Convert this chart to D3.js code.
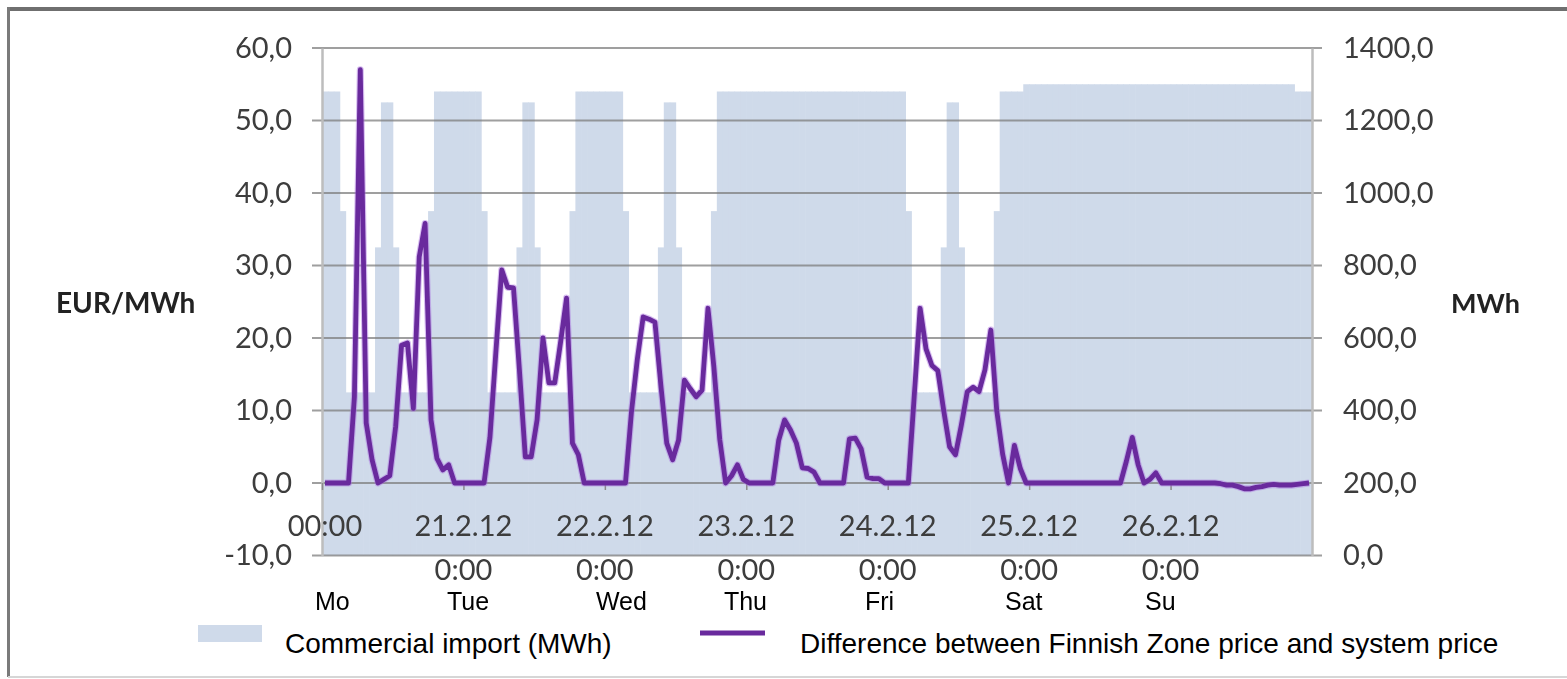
<!DOCTYPE html>
<html>
<head>
<meta charset="utf-8">
<script src="https://cdn.jsdelivr.net/npm/d3@7"></script>
<style>
  html, body { margin: 0; padding: 0; background: #fff; }
  svg { display: block; }
</style>
</head>
<body>
<svg id="chart" width="1567" height="679"></svg>
<script>
// Hour index of the week 20.2.2012 00:00 – 26.2.2012 23:00
const hours = d3.range(168);

// Commercial import into Finland, MWh per hour (Mon..Sun, 24 values per row)
const importMWh = [
  1280,1280,1280,950,450,450,450,450,450,850,1250,1250,850,450,450,450,450,450,950,1280,1280,1280,1280,1280,
  1280,1280,1280,950,450,450,450,450,450,850,1250,1250,850,450,450,450,450,450,950,1280,1280,1280,1280,1280,
  1280,1280,1280,950,450,450,450,450,450,850,1250,1250,850,450,450,450,450,450,950,1280,1280,1280,1280,1280,
  1280,1280,1280,1280,1280,1280,1280,1280,1280,1280,1280,1280,1280,1280,1280,1280,1280,1280,1280,1280,1280,1280,1280,1280,
  1280,1280,1280,950,450,450,450,450,450,850,1250,1250,850,450,450,450,450,450,950,1280,1280,1280,1280,1300,
  1300,1300,1300,1300,1300,1300,1300,1300,1300,1300,1300,1300,1300,1300,1300,1300,1300,1300,1300,1300,1300,1300,1300,1300,
  1300,1300,1300,1300,1300,1300,1300,1300,1300,1300,1300,1300,1300,1300,1300,1300,1300,1300,1300,1300,1300,1280,1280,1280
];

// Finnish area price minus system price, EUR/MWh per hour
const priceDiff = [
  0,0,0,0,0,11.9,57,8.3,3.2,0,0.5,1.0,7.8,19,19.3,10.3,31.2,35.8,8.7,3.4,1.8,2.5,0,0,
  0,0,0,0,6.3,18,29.4,27,26.9,15.6,3.6,3.6,8.7,20,13.8,13.8,19.5,25.5,5.5,3.9,0,0,0,0,
  0,0,0,0,9.7,17,22.9,22.6,22.2,13.5,5.5,3.2,5.9,14.2,13,11.9,12.8,24.1,16,6,0,1,2.5,0.5,
  0,0,0,0,0,5.9,8.7,7.3,5.5,2.1,2.0,1.5,0,0,0,0,0,6.1,6.2,4.7,0.8,0.6,0.6,0,
  0,0,0,0,12,24.1,18.5,16.2,15.5,10,5,3.9,8,12.6,13.2,12.6,15.6,21.1,10,4,0,5.2,2,0,
  0,0,0,0,0,0,0,0,0,0,0,0,0,0,0,0,3,6.3,2.5,0,0.5,1.4,0,0,
  0,0,0,0,0,0,0,0,-0.1,-0.3,-0.3,-0.5,-0.8,-0.8,-0.6,-0.5,-0.3,-0.2,-0.3,-0.3,-0.3,-0.2,-0.1,0
];

const leftTicks = [-10, 0, 10, 20, 30, 40, 50, 60];
const rightTicks = [0, 200, 400, 600, 800, 1000, 1200, 1400];
const dayTickTop = ["00:00", "21.2.12", "22.2.12", "23.2.12", "24.2.12", "25.2.12", "26.2.12"];
const dayTickBottom = ["", "0:00", "0:00", "0:00", "0:00", "0:00", "0:00"];
const weekdays = ["Mo", "Tue", "Wed", "Thu", "Fri", "Sat", "Su"];
const weekdayAt = [-0.05, 0.884, 1.937, 2.842, 3.839, 4.829, 5.819];   // day units
const legendLabels = ["Commercial import (MWh)", "Difference between Finnish Zone price and system price"];

const W = 1567, H = 679;
const plot = { left: 322, right: 1312, top: 48, bottom: 555.5 };
const barColor = "#cfdaea";
const lineColor = "#692b9d";
const tickFont = "Lato, 'Open Sans', sans-serif";
const labelFont = "'Liberation Sans', Arial, sans-serif";
const fmt = v => v.toFixed(1).replace(".", ",");

const svg = d3.select("#chart");
const defs = svg.append("defs");
defs.append("filter").attr("id", "soft")
  .attr("filterUnits", "userSpaceOnUse")
  .attr("x", 0).attr("y", 0).attr("width", W).attr("height", H)
  .append("feGaussianBlur").attr("stdDeviation", 0.55);

svg.append("rect").attr("width", W).attr("height", H).attr("fill", "#fff");

// frame
svg.append("rect").attr("x", 8).attr("y", 7).attr("width", W - 8).attr("height", 4).attr("fill", "#6f6f6f");
svg.append("rect").attr("x", 7).attr("y", 7).attr("width", 3).attr("height", H - 9).attr("fill", "#7a7a7a");
svg.append("line").attr("x1", 8).attr("x2", W).attr("y1", 677).attr("y2", 677)
  .attr("stroke", "#d6d6d6").attr("stroke-width", 2);

const x = d3.scaleBand().domain(hours).range([plot.left, plot.right]).padding(0);
const days = d3.scaleLinear().domain([0, 7]).range([plot.left, plot.right]);
const yL = d3.scaleLinear().domain([-10, 60]).range([plot.bottom, plot.top]);
const yR = d3.scaleLinear().domain([0, 1400]).range([plot.bottom, plot.top]);

const chart = svg.append("g").attr("filter", "url(#soft)");

// import columns
chart.append("g").selectAll("rect").data(importMWh).join("rect")
  .attr("x", (d, i) => x(i))
  .attr("width", x.bandwidth() + 0.6)
  .attr("y", d => yR(d))
  .attr("height", d => yR(0) - yR(d))
  .attr("fill", barColor);

// horizontal gridlines
chart.append("g").selectAll("line").data(leftTicks).join("line")
  .attr("x1", plot.left - 10).attr("x2", plot.right + 10)
  .attr("y1", d => yL(d)).attr("y2", d => yL(d))
  .attr("stroke", "#7d7d7d").attr("stroke-opacity", 0.75).attr("stroke-width", 2);

// left axis
const gL = chart.append("g").attr("transform", `translate(${plot.left},0)`)
  .call(d3.axisLeft(yL).tickValues(leftTicks).tickFormat(fmt).tickSizeInner(10).tickSizeOuter(0).tickPadding(20));
gL.select(".domain").attr("stroke", "#bdbdbd").attr("stroke-width", 2.5);
gL.selectAll(".tick line").attr("stroke", "none");
gL.selectAll("text").attr("font-family", tickFont).attr("font-size", 29).attr("fill", "#3c3c3c");

// right axis
const gR = chart.append("g").attr("transform", `translate(${plot.right},0)`)
  .call(d3.axisRight(yR).tickValues(rightTicks).tickFormat(fmt).tickSizeInner(10).tickSizeOuter(0).tickPadding(21));
gR.select(".domain").attr("stroke", "#bdbdbd").attr("stroke-width", 2.5);
gR.selectAll(".tick line").attr("stroke", "none");
gR.selectAll("text").attr("font-family", tickFont).attr("font-size", 29).attr("fill", "#3c3c3c");

// day ticks on the zero line
const gX = chart.append("g").attr("transform", `translate(0,${yL(0)})`)
  .call(d3.axisBottom(days).tickValues(d3.range(7)).tickSize(7).tickFormat(""));
gX.select(".domain").remove();
gX.selectAll(".tick line").attr("stroke", "#8a8a8a").attr("stroke-width", 1.5);

// day labels, two lines
chart.append("g").selectAll("text").data(dayTickTop).join("text")
  .attr("x", (d, i) => days(i) + (i === 0 ? 3 : 0))
  .attr("y", 536)
  .attr("text-anchor", "middle")
  .attr("font-family", tickFont).attr("font-size", 29).attr("fill", "#3c3c3c")
  .text(d => d);
chart.append("g").selectAll("text").data(dayTickBottom).join("text")
  .attr("x", (d, i) => days(i))
  .attr("y", 580)
  .attr("text-anchor", "middle")
  .attr("font-family", tickFont).attr("font-size", 29).attr("fill", "#3c3c3c")
  .text(d => d);

// price difference line
const line = d3.line()
  .x((d, i) => x(i) + x.bandwidth() / 2)
  .y(d => yL(d));
chart.append("path").datum(priceDiff)
  .attr("d", line).attr("fill", "none")
  .attr("stroke", "#a86fe0").attr("stroke-opacity", 0.45).attr("stroke-width", 7)
  .attr("stroke-linejoin", "round");
chart.append("path").datum(priceDiff)
  .attr("d", line).attr("fill", "none")
  .attr("stroke", lineColor).attr("stroke-width", 4.8)
  .attr("stroke-linejoin", "round");

// axis titles
chart.append("text").attr("x", 56).attr("y", 313)
  .attr("font-family", tickFont).attr("font-weight", 700).attr("font-size", 28).attr("fill", "#222")
  .text("EUR/MWh");
chart.append("text").attr("x", 1451).attr("y", 313)
  .attr("font-family", tickFont).attr("font-weight", 700).attr("font-size", 27).attr("fill", "#222")
  .text("MWh");

// weekday names
svg.append("g").selectAll("text").data(weekdays).join("text")
  .attr("x", (d, i) => days(weekdayAt[i]))
  .attr("y", 610)
  .attr("font-family", labelFont).attr("font-size", 25).attr("fill", "#000")
  .text(d => d);

// legend
const lg = svg.append("g");
const lgSwatches = lg.append("g").attr("filter", "url(#soft)");
lgSwatches.append("rect").attr("x", 198).attr("y", 625).attr("width", 64).attr("height", 17)
  .attr("fill", barColor);
lgSwatches.append("line").attr("x1", 700).attr("x2", 765).attr("y1", 633).attr("y2", 633)
  .attr("stroke", lineColor).attr("stroke-width", 5);
lg.append("text").attr("x", 285).attr("y", 653)
  .attr("font-family", labelFont).attr("font-size", 28).attr("fill", "#000").text(legendLabels[0]);
lg.append("text").attr("x", 800).attr("y", 653)
  .attr("font-family", labelFont).attr("font-size", 28).attr("fill", "#000").text(legendLabels[1]);
</script>
</body>
</html>
